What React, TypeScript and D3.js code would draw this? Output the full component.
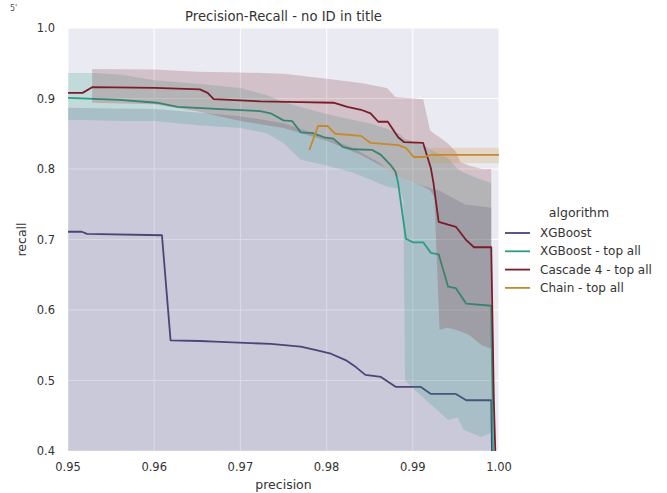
import React from "react";
import * as d3 from "d3";

// ---- data ----
const xTicks = [0.95, 0.96, 0.97, 0.98, 0.99, 1.0];
const yTicks = [0.4, 0.5, 0.6, 0.7, 0.8, 0.9, 1.0];

const seriesNames = ["XGBoost", "XGBoost - top all", "Cascade 4 - top all", "Chain - top all"];
const seriesColors = ["#4a4579", "#2a9d82", "#7a1d28", "#c68a2c"];

// XGBoost
const xgbP = [0.95, 0.9516, 0.9522, 0.9609, 0.9619, 0.9653, 0.967, 0.9712, 0.9735, 0.977, 0.9788, 0.9805, 0.9822, 0.9834, 0.9845, 0.9863, 0.988, 0.9909, 0.9921, 0.995, 0.9962, 0.9991, 0.9993];
const xgbR = [0.711, 0.711, 0.708, 0.706, 0.557, 0.556, 0.555, 0.553, 0.552, 0.548, 0.543, 0.538, 0.529, 0.519, 0.508, 0.505, 0.491, 0.491, 0.481, 0.481, 0.472, 0.472, 0.3];
const xgbBandP = [0.95, 0.96, 0.965, 0.97, 0.975, 0.98, 0.983, 0.986, 0.988, 0.99, 0.993, 0.996, 0.9991];
const xgbBandHi = [0.887, 0.885, 0.88, 0.875, 0.865, 0.845, 0.83, 0.81, 0.79, 0.78, 0.77, 0.75, 0.745];
const xgbBandLo = [0.3, 0.3, 0.3, 0.3, 0.3, 0.3, 0.3, 0.3, 0.3, 0.3, 0.3, 0.3, 0.3];

// XGBoost - top all
const tealP = [0.95, 0.956, 0.9603, 0.9627, 0.9677, 0.9723, 0.9735, 0.975, 0.976, 0.977, 0.9784, 0.9797, 0.9808, 0.9819, 0.9831, 0.9853, 0.9863, 0.9874, 0.988, 0.9883, 0.9892, 0.99, 0.9912, 0.9921, 0.993, 0.9941, 0.995, 0.9962, 0.9991, 0.9994];
const tealR = [0.901, 0.898, 0.894, 0.888, 0.885, 0.882, 0.879, 0.869, 0.868, 0.852, 0.851, 0.845, 0.843, 0.831, 0.828, 0.827, 0.82, 0.806, 0.796, 0.78, 0.701, 0.696, 0.696, 0.681, 0.679, 0.633, 0.631, 0.609, 0.606, 0.3];
const tealBandP = [0.95, 0.953, 0.956, 0.96, 0.965, 0.97, 0.973, 0.975, 0.977, 0.98, 0.983, 0.985, 0.987, 0.9885, 0.9889, 0.9891, 0.9909, 0.9941, 0.9952, 0.9959, 0.9979, 0.9991];
const tealBandHi = [0.936, 0.936, 0.934, 0.926, 0.921, 0.915, 0.905, 0.895, 0.888, 0.878, 0.87, 0.865, 0.857, 0.85, 0.845, 0.843, 0.835, 0.815, 0.8, 0.795, 0.785, 0.78];
const tealBandLo = [0.87, 0.869, 0.868, 0.868, 0.862, 0.858, 0.851, 0.837, 0.813, 0.805, 0.795, 0.785, 0.775, 0.772, 0.756, 0.5, 0.479, 0.444, 0.448, 0.43, 0.42, 0.426];

// Cascade 4 - top all
const redP = [0.95, 0.9517, 0.9528, 0.9601, 0.9653, 0.9662, 0.9669, 0.9723, 0.977, 0.9808, 0.9824, 0.984, 0.9851, 0.986, 0.9871, 0.9883, 0.989, 0.9912, 0.9921, 0.9924, 0.993, 0.9941, 0.995, 0.9962, 0.9971, 0.9991, 0.9994, 0.9998];
const redR = [0.908, 0.908, 0.916, 0.915, 0.913, 0.908, 0.899, 0.896, 0.895, 0.894, 0.888, 0.884, 0.879, 0.867, 0.867, 0.845, 0.838, 0.837, 0.801, 0.78, 0.725, 0.721, 0.718, 0.699, 0.689, 0.689, 0.472, 0.3];
const redBandP = [0.9528, 0.96, 0.965, 0.97, 0.975, 0.98, 0.984, 0.987, 0.988, 0.9912, 0.992, 0.9925, 0.9931, 0.994, 0.995, 0.9955, 0.9965, 0.998, 0.9991];
const redBandHi = [0.942, 0.941, 0.938, 0.937, 0.935, 0.928, 0.922, 0.915, 0.902, 0.899, 0.855, 0.85, 0.845, 0.837, 0.825, 0.81, 0.805, 0.8, 0.8];
const redBandLo = [0.894, 0.892, 0.882, 0.868, 0.858, 0.84, 0.82, 0.8, 0.79, 0.775, 0.77, 0.76, 0.572, 0.575, 0.572, 0.57, 0.565, 0.55, 0.545];

// Chain - top all
const chainP = [0.978, 0.979, 0.9801, 0.981, 0.984, 0.9851, 0.9883, 0.9892, 0.9901, 0.9913, 0.9921, 1.0];
const chainR = [0.827, 0.861, 0.861, 0.85, 0.847, 0.837, 0.834, 0.83, 0.817, 0.817, 0.82, 0.82];
const chainBandP = [0.9921, 1.0];
const chainBandHi = [0.83, 0.83];
const chainBandLo = [0.808, 0.808];

const lines = [
  { p: xgbP, r: xgbR, bp: xgbBandP, hi: xgbBandHi, lo: xgbBandLo },
  { p: tealP, r: tealR, bp: tealBandP, hi: tealBandHi, lo: tealBandLo },
  { p: redP, r: redR, bp: redBandP, hi: redBandHi, lo: redBandLo },
  { p: chainP, r: chainR, bp: chainBandP, hi: chainBandHi, lo: chainBandLo },
];

const W = 667;
const H = 493;
const M = { left: 68, right: 499, top: 28, bottom: 451 };

export default function App() {
  const x = d3.scaleLinear().domain([0.95, 1.0]).range([M.left, M.right]);
  const y = d3.scaleLinear().domain([0.4, 1.0]).range([M.bottom, M.top]);
  const font = "DejaVu Sans, sans-serif";
  const txt = "#333333";

  const lineGen = d3
    .line<[number, number]>()
    .x((d) => x(d[0]))
    .y((d) => y(d[1]));
  const areaGen = d3
    .area<[number, number, number]>()
    .x((d) => x(d[0]))
    .y0((d) => y(d[1]))
    .y1((d) => y(d[2]));

  return (
    <svg
      width={W}
      height={H}
      style={{ position: "absolute", left: 0, top: 0, background: "#ffffff" }}
      fontFamily={font}
    >
      <defs>
        <clipPath id="plotclip">
          <rect x={M.left} y={M.top} width={M.right - M.left} height={M.bottom - M.top} />
        </clipPath>
      </defs>
      <text x={10} y={11} fontSize={8} fill="#555">5'</text>
      <rect x={M.left} y={M.top} width={M.right - M.left} height={M.bottom - M.top} fill="#eaeaf2" />
      {xTicks.map((t) => (
        <line key={"gx" + t} x1={x(t)} x2={x(t)} y1={M.top} y2={M.bottom} stroke="#ffffff" strokeWidth={1.1} />
      ))}
      {yTicks.map((t) => (
        <line key={"gy" + t} x1={M.left} x2={M.right} y1={y(t)} y2={y(t)} stroke="#ffffff" strokeWidth={1.1} />
      ))}
      <g clipPath="url(#plotclip)">
        {lines.map((s, i) => {
          const band = s.bp.map((p, j) => [p, s.lo[j], s.hi[j]] as [number, number, number]);
          const pts = s.p.map((p, j) => [p, s.r[j]] as [number, number]);
          return (
            <g key={i}>
              <path d={areaGen(band) || ""} fill={seriesColors[i]} fillOpacity={0.2} stroke="none" />
              <path d={lineGen(pts) || ""} fill="none" stroke={seriesColors[i]} strokeWidth={1.8} strokeLinejoin="round" />
            </g>
          );
        })}
      </g>
      {xTicks.map((t) => (
        <text key={"tx" + t} x={x(t)} y={471} fontSize={11.5} fill={txt} textAnchor="middle">
          {d3.format(".2f")(t)}
        </text>
      ))}
      {yTicks.map((t) => (
        <text key={"ty" + t} x={55} y={y(t) + 4} fontSize={11.5} fill={txt} textAnchor="end">
          {d3.format(".1f")(t)}
        </text>
      ))}
      <text x={(M.left + M.right) / 2} y={489} fontSize={12.5} fill={txt} textAnchor="middle">
        precision
      </text>
      <text
        transform={`translate(${26},${(M.top + M.bottom) / 2}) rotate(-90)`}
        fontSize={12.5}
        fill={txt}
        textAnchor="middle"
      >
        recall
      </text>
      <text x={(M.left + M.right) / 2} y={21} fontSize={13.2} fill={txt} textAnchor="middle">
        Precision-Recall - no ID in title
      </text>
      <text x={579} y={217} fontSize={12.5} fill={txt} textAnchor="middle">
        algorithm
      </text>
      {seriesNames.map((n, i) => (
        <g key={n} transform={`translate(0,${233 + i * 18.3})`}>
          <line x1={505} x2={530} y1={0} y2={0} stroke={seriesColors[i]} strokeWidth={1.8} />
          <text x={540} y={4} fontSize={12} fill={txt}>
            {n}
          </text>
        </g>
      ))}
    </svg>
  );
}
